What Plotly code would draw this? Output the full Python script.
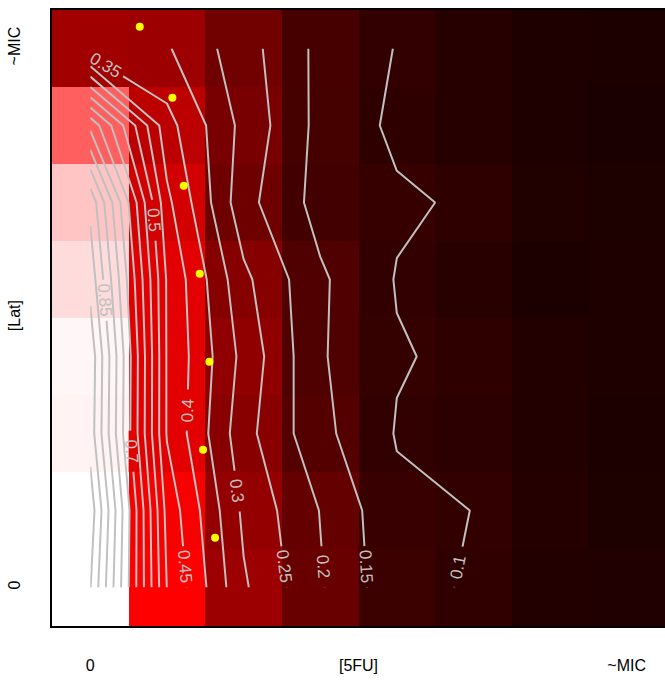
import math
import plotly.graph_objects as go

# drug levels (column / row indices) and tick labels
fu_levels = [0, 1, 2, 3, 4, 5, 6, 7]
lat_levels = [0, 1, 2, 3, 4, 5, 6, 7]
x_tickvals = [0, 3.5, 7]
x_ticktext = ["0", "[5FU]", "~MIC"]
y_tickvals = [0, 3.5, 7]
y_ticktext = ["0", "[Lat]", "~MIC"]

# relative growth, one list per [Lat] level (bottom = 0 to top = ~MIC)
growth_lat0 = [1.002, 0.499, 0.307, 0.205, 0.115, 0.095, 0.067, 0.062]
growth_lat1 = [1.030, 0.483, 0.290, 0.1985, 0.110, 0.0995, 0.072, 0.056]
growth_lat2 = [0.977, 0.446, 0.268, 0.164, 0.097, 0.088, 0.068, 0.055]
growth_lat3 = [0.984, 0.446, 0.285, 0.155, 0.1035, 0.090, 0.068, 0.058]
growth_lat4 = [0.932, 0.445, 0.262, 0.1576, 0.0973, 0.080, 0.055, 0.058]
growth_lat5 = [0.886, 0.4125, 0.217, 0.132, 0.107, 0.093, 0.065, 0.056]
growth_lat6 = [0.687, 0.368, 0.235, 0.135, 0.090, 0.075, 0.060, 0.053]
growth_lat7 = [0.314, 0.305, 0.221, 0.137, 0.098, 0.075, 0.060, 0.054]

# contour levels
contour_start, contour_end, contour_step = 0.1, 1.0, 0.05
# labelled levels with the grid cell (row, col) and height where the label sits
label_levels = [0.35, 0.5, 0.85, 0.4, 0.7, 0.3, 0.45, 0.25, 0.2, 0.15, 0.1]
label_cells = [(6, 0), (4, 0), (3, 0), (2, 1), (1, 0), (1, 1), (0, 1), (0, 2), (0, 3), (0, 3), (0, 4)]
label_y = [6.78, 4.77, 3.73, 2.305, 1.77, 1.253, 0.27, 0.27, 0.27, 0.27, 0.27]

# yellow points (IC50-like estimates)
pt_fu = [0.645, 1.071, 1.219, 1.428, 1.554, 1.471, 1.628]
pt_lat = [7.283, 6.361, 5.218, 4.075, 2.932, 1.790, 0.647]

z = [growth_lat0, growth_lat1, growth_lat2, growth_lat3,
     growth_lat4, growth_lat5, growth_lat6, growth_lat7]

LINE_COL = "#c0c0c0"
FONT = "Liberation Sans, Arial, sans-serif"
LABEL_SIZE = 17
W, H = 665, 687
ML, MR, MT, MB = 52, 0, 10, 61
PX_X = (W - ML - MR) / 8.0   # pixels per data unit
PX_Y = (H - MT - MB) / 8.0


def heat_color(v):
    v = min(max(v, 0.0), 1.0)
    if v < 0.5:
        return "rgb(%d,0,0)" % round(510 * v)
    g = round(510 * (v - 0.5))
    return "rgb(255,%d,%d)" % (g, g)


def crossings(level, r, c):
    corners = [(c, r, z[r][c]), (c + 1, r, z[r][c + 1]),
               (c + 1, r + 1, z[r + 1][c + 1]), (c, r + 1, z[r + 1][c])]
    pts = []
    for i in range(4):
        x0, y0, z0 = corners[i]
        x1, y1, z1 = corners[(i + 1) % 4]
        if (z0 - level) * (z1 - level) < 0:
            t = (level - z0) / (z1 - z0)
            pts.append((x0 + t * (x1 - x0), y0 + t * (y1 - y0)))
    return pts[:2]


def clip(poly, xmin, xmax, ymin, ymax):
    def cut(pts, inside, inter):
        out = []
        for i in range(len(pts)):
            p, q = pts[i - 1], pts[i]
            if inside(q):
                if not inside(p):
                    out.append(inter(p, q))
                out.append(q)
            elif inside(p):
                out.append(inter(p, q))
        return out

    def ix(p, q, xv):
        t = (xv - p[0]) / (q[0] - p[0])
        return (xv, p[1] + t * (q[1] - p[1]))

    def iy(p, q, yv):
        t = (yv - p[1]) / (q[1] - p[1])
        return (p[0] + t * (q[0] - p[0]), yv)

    for inside, inter in [
        (lambda p: p[0] >= xmin, lambda p, q: ix(p, q, xmin)),
        (lambda p: p[0] <= xmax, lambda p, q: ix(p, q, xmax)),
        (lambda p: p[1] >= ymin, lambda p, q: iy(p, q, ymin)),
        (lambda p: p[1] <= ymax, lambda p, q: iy(p, q, ymax)),
    ]:
        if not poly:
            break
        poly = cut(poly, inside, inter)
    return poly


def text_px(s):
    return sum(0.278 * LABEL_SIZE if ch == "." else 0.556 * LABEL_SIZE for ch in s)


fig = go.Figure()
fig.add_trace(go.Heatmap(
    z=z, x=fu_levels, y=lat_levels, zmin=0, zmax=1,
    colorscale=[[0, "#000000"], [0.5, "#ff0000"], [1, "#ffffff"]],
    showscale=False, hoverinfo="skip"))
fig.add_trace(go.Contour(
    z=z, x=fu_levels, y=lat_levels,
    contours=dict(start=contour_start, end=contour_end + 1e-6, size=contour_step,
                  coloring="none", showlabels=False),
    line=dict(color=LINE_COL, width=2, smoothing=0),
    showscale=False, hoverinfo="skip"))
fig.add_trace(go.Scatter(
    x=pt_fu, y=pt_lat, mode="markers",
    marker=dict(color="#ffff00", size=8, line=dict(width=0)),
    hoverinfo="skip", showlegend=False))

annotations, shapes = [], []
min_gap = text_px("0.00")
for lv, (r, c), ylab in zip(label_levels, label_cells, label_y):
    (xa, ya), (xb, yb) = crossings(lv, r, c)
    s = (ylab - ya) / (yb - ya) if yb != ya else 0.5
    cx = xa + s * (xb - xa)
    cy = ya + s * (yb - ya)
    ang = math.degrees(math.atan2(-(yb - ya) * PX_Y, (xb - xa) * PX_X))
    if ang > 90:
        ang -= 180
    elif ang <= -90:
        ang += 180
    txt = "%g" % lv
    # gap in the contour line under the label (filled with the cell colours)
    a = max(text_px(txt), min_gap) / 2 + 4
    b = 6
    th = math.radians(ang)
    u = (math.cos(th), math.sin(th))
    v = (-math.sin(th), math.cos(th))
    poly = []
    for sa, sb in [(-1, -1), (1, -1), (1, 1), (-1, 1)]:
        dxp = sa * a * u[0] + sb * b * v[0]
        dyp = sa * a * u[1] + sb * b * v[1]
        poly.append((cx + dxp / PX_X, cy - dyp / PX_Y))
    for rr in range(8):
        for cc in range(8):
            part = clip(poly, cc - 0.5, cc + 0.5, rr - 0.5, rr + 0.5)
            if len(part) >= 3:
                path = "M " + " L ".join("%.5f,%.5f" % p for p in part) + " Z"
                shapes.append(dict(type="path", path=path, xref="x", yref="y",
                                   fillcolor=heat_color(z[rr][cc]),
                                   line=dict(width=0), layer="above"))
    annotations.append(dict(
        x=cx, y=cy, xref="x", yref="y", showarrow=False,
        text=txt, textangle=ang,
        font=dict(size=LABEL_SIZE, color=LINE_COL, family=FONT)))

axis_common = dict(showgrid=False, zeroline=False, showline=True, mirror=True,
                   linecolor="black", linewidth=2, ticks="", automargin=False,
                   tickfont=dict(size=16, color="black", family=FONT))
fig.update_layout(
    width=W, height=H,
    margin=dict(l=ML, r=MR, t=MT, b=MB),
    paper_bgcolor="white", plot_bgcolor="white",
    showlegend=False, annotations=annotations, shapes=shapes,
    xaxis=dict(range=[-0.5, 7.5], tickvals=x_tickvals, ticktext=x_ticktext,
               ticklabelstandoff=24, **axis_common),
    yaxis=dict(range=[-0.5, 7.5], tickvals=y_tickvals, ticktext=y_ticktext,
               tickangle=-90, ticklabelstandoff=24, **axis_common),
)
fig.write_html("out.html", config={"displayModeBar": False},
               post_script="document.body.style.margin='0';"
                           "document.body.style.overflow='hidden';")
